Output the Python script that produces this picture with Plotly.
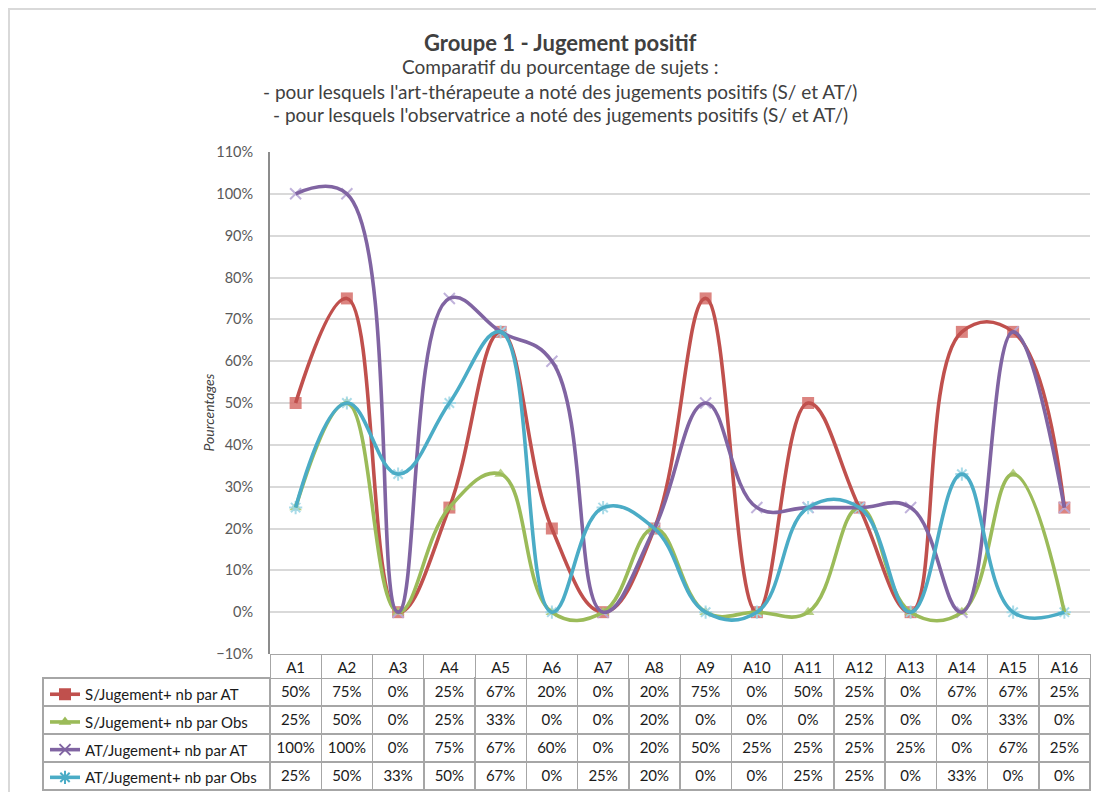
import plotly.graph_objects as go

categories = [f"A{i}" for i in range(1, 17)]
s_at = [50, 75, 0, 25, 67, 20, 0, 20, 75, 0, 50, 25, 0, 67, 67, 25]
s_obs = [25, 50, 0, 25, 33, 0, 0, 20, 0, 0, 0, 25, 0, 0, 33, 0]
at_at = [100, 100, 0, 75, 67, 60, 0, 20, 50, 25, 25, 25, 25, 0, 67, 25]
at_obs = [25, 50, 33, 50, 67, 0, 25, 20, 0, 0, 25, 25, 0, 33, 0, 0]

names = ["S/Jugement+ nb par AT", "S/Jugement+ nb par Obs",
         "AT/Jugement+ nb par AT", "AT/Jugement+ nb par Obs"]
series = [s_at, s_obs, at_at, at_obs]
line_colors = ["#C0504D", "#9BBB59", "#8064A2", "#4BACC6"]
marker_colors = ["rgba(214,110,106,0.85)", "rgba(170,200,110,0.85)",
                 "rgba(185,170,215,0.9)", "rgba(160,215,230,0.9)"]
symbols = ["square", "triangle-up", "x-thin-open", "asterisk-open"]
msizes = [12, 11, 11, 11]

# page body has an 8px margin: figure occupies 8..1104 x 8..792 of the window
OFF = 8
W, H = 1104 - OFF, 792 - OFF
FONT = "Lato"

def px(x):
    return (x - OFF) / W

def py(y):
    return 1 - (y - OFF) / H

plot_top, plot_bottom = 152, 654
plot_left, plot_right = 270, 1090

fig = go.Figure()

# markers first (under the lines)
for vals, mc, sym, ms in zip(series, marker_colors, symbols, msizes):
    fig.add_trace(go.Scatter(
        x=categories, y=vals, mode="markers", showlegend=False, hoverinfo="skip",
        marker=dict(symbol=sym, size=ms, color=mc,
                    line=dict(color=mc, width=2 if "open" in sym else 0)),
    ))

for name, vals, lc in zip(names, series, line_colors):
    fig.add_trace(go.Scatter(
        x=categories, y=vals, mode="lines", name=name, showlegend=False,
        line=dict(color=lc, width=3.6, shape="spline", smoothing=1.2),
        hovertemplate="%{x}: %{y}%<extra>" + name + "</extra>",
    ))

# legend keys (shown in the data table's first column)
for i, (name, lc, mc, sym, ms) in enumerate(zip(names, line_colors, marker_colors, symbols, msizes)):
    fig.add_trace(go.Scatter(
        x=[None], y=[None], mode="lines+markers", name=name, legendgroup=f"g{i}",
        line=dict(color=lc, width=3.6),
        marker=dict(symbol=sym, size=ms, color=lc,
                    line=dict(color=lc, width=2 if "open" in sym else 0)),
    ))

# data table
header_vals = [""] + categories
cell_cols = [["", "", "", ""]] + [[f"{s[i]}%" for s in series] for i in range(len(categories))]
fig.add_trace(go.Table(
    domain=dict(x=[px(43), px(plot_right)], y=[0, py(plot_bottom)]),
    columnwidth=[227] + [51.25] * len(categories),
    header=dict(values=header_vals, height=24,
                fill=dict(color=["rgba(0,0,0,0)"] + ["white"] * len(categories)),
                line=dict(color=["rgba(0,0,0,0)"] + ["#A6A6A6"] * len(categories), width=1),
                font=dict(family=FONT, size=15, color="#1a1a1a"), align="center"),
    cells=dict(values=cell_cols, height=28, fill=dict(color="white"),
               line=dict(color="#A6A6A6", width=1.5),
               font=dict(family=FONT, size=15, color="#1a1a1a"), align="center"),
))

fig.update_layout(
    width=W, height=H,
    margin=dict(l=0, r=0, t=0, b=0, autoexpand=False),
    paper_bgcolor="white", plot_bgcolor="white",
    font=dict(family=FONT, color="#404040"),
    xaxis=dict(domain=[px(plot_left), px(plot_right)], type="category",
               range=[-0.5, 15.5], showticklabels=False, showgrid=False,
               zeroline=False, showline=False, fixedrange=True),
    yaxis=dict(domain=[py(plot_bottom), py(plot_top)], range=[-10, 110], dtick=10,
               ticksuffix="%", showgrid=True, gridcolor="#D9D9D9", gridwidth=2,
               zeroline=False, showline=True, linecolor="#8C8C8C", linewidth=2,
               tickfont=dict(family=FONT, size=14.5, color="#595959"),
               ticks="", ticklabelstandoff=12),
    legend=dict(x=px(45), y=py(678), xanchor="left", yanchor="top",
                bgcolor="rgba(0,0,0,0)", font=dict(family=FONT, size=15, color="#1a1a1a"),
                tracegroupgap=5.2, itemwidth=30),
    showlegend=True,
    shapes=[dict(type="rect", xref="paper", yref="paper", x0=px(9), x1=1.02,
                 y0=-0.02, y1=py(9), line=dict(color="#D9D9D9", width=2),
                 fillcolor="rgba(0,0,0,0)", layer="below")],
    annotations=[
        dict(text="<b>Groupe 1 - Jugement positif</b>", x=px(560), y=py(42), xref="paper",
             yref="paper", yanchor="middle", showarrow=False, font=dict(size=22, color="#404040")),
        dict(text="Comparatif du pourcentage de sujets :", x=px(560), y=py(67), xref="paper",
             yref="paper", yanchor="middle", showarrow=False, font=dict(size=19, color="#404040")),
        dict(text="- pour lesquels l'art-thérapeute a noté des jugements positifs (S/ et AT/)",
             x=px(560), y=py(91), xref="paper", yref="paper", yanchor="middle", showarrow=False,
             font=dict(size=19, color="#404040")),
        dict(text="- pour lesquels l'observatrice a noté des jugements positifs (S/ et AT/)",
             x=px(560), y=py(114), xref="paper", yref="paper", yanchor="middle", showarrow=False,
             font=dict(size=19, color="#404040")),
        dict(text="<i>Pourcentages</i>", x=px(197), y=py(413), xref="paper", yref="paper",
             yanchor="middle", showarrow=False, textangle=-90, font=dict(size=14, color="#404040")),
    ],
)

fig.write_html("out.html")
